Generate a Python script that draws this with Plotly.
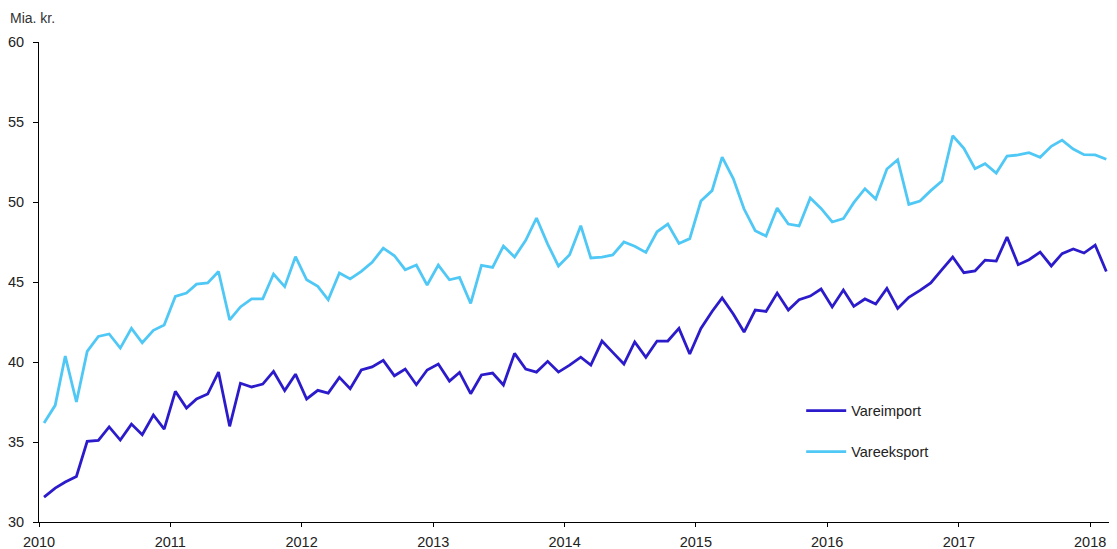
import pandas as pd
import plotly.graph_objects as go

# Monthly dates (mid-month), Jan 2010 - Feb 2018
dates = pd.date_range("2010-01-01", "2018-02-01", freq="MS") + pd.Timedelta(days=14)

vareimport = [
    31.56, 32.12, 32.50, 32.85, 35.04, 35.10, 35.94, 35.12, 36.12, 35.46, 36.69, 35.81,
    38.17, 37.12, 37.69, 38.00, 39.37, 35.98, 38.67, 38.44, 38.62, 39.41, 38.21, 39.24,
    37.69, 38.23, 38.06, 39.04, 38.33, 39.50, 39.69, 40.10, 39.14, 39.56, 38.58, 39.50,
    39.87, 38.81, 39.35, 38.02, 39.19, 39.31, 38.56, 40.54, 39.56, 39.37, 40.04, 39.37,
    39.80, 40.30, 39.81, 41.31, 40.60, 39.87, 41.25, 40.29, 41.31, 41.31, 42.10, 40.50,
    42.10, 43.16, 44.00, 43.00, 41.87, 43.25, 43.16, 44.31, 43.25, 43.89, 44.12, 44.56,
    43.44, 44.50, 43.48, 43.94, 43.62, 44.60, 43.35, 44.04, 44.48, 44.94, 45.77, 46.56,
    45.58, 45.69, 46.37, 46.31, 47.81, 46.08, 46.39, 46.87, 46.00, 46.77, 47.06, 46.81,
    47.31, 45.66,
]

vareeksport = [
    36.19, 37.29, 40.37, 37.50, 40.66, 41.60, 41.75, 40.87, 42.10, 41.20, 41.98, 42.31,
    44.10, 44.31, 44.87, 44.94, 45.66, 42.63, 43.44, 43.95, 43.95, 45.50, 44.71, 46.58,
    45.14, 44.73, 43.89, 45.56, 45.19, 45.66, 46.23, 47.12, 46.64, 45.77, 46.06, 44.81,
    46.06, 45.14, 45.29, 43.66, 46.04, 45.91, 47.25, 46.56, 47.60, 49.00, 47.37, 46.00,
    46.70, 48.52, 46.50, 46.56, 46.69, 47.50, 47.23, 46.85, 48.14, 48.62, 47.41, 47.71,
    50.06, 50.71, 52.81, 51.46, 49.56, 48.21, 47.87, 49.62, 48.62, 48.50, 50.25, 49.60,
    48.75, 48.96, 49.96, 50.83, 50.19, 52.06, 52.64, 49.85, 50.06, 50.71, 51.31, 54.14,
    53.35, 52.08, 52.39, 51.81, 52.87, 52.94, 53.08, 52.79, 53.48, 53.87, 53.31, 52.96,
    52.94, 52.67,
]

year_ticks = [f"{y}-01-01" for y in range(2010, 2019)]
year_labels = [str(y) for y in range(2010, 2019)]
y_ticks = [30, 35, 40, 45, 50, 55, 60]

import_color = "#2B1BCB"
export_color = "#50C8F6"
font_family = "Liberation Sans, Arial, sans-serif"
text_color = "#222222"

fig = go.Figure()
fig.add_trace(go.Scatter(x=dates, y=vareimport, mode="lines", name="Vareimport",
                         line=dict(color=import_color, width=2.8), legendgroup="a"))
fig.add_trace(go.Scatter(x=dates, y=vareeksport, mode="lines", name="Vareeksport",
                         line=dict(color=export_color, width=2.8), legendgroup="b"))

# The page body adds an 8px margin, so the figure is sized to fit the window
fig.update_layout(
    width=1109, height=541,
    margin=dict(l=31, r=6, t=34, b=27, autoexpand=False),
    paper_bgcolor="white", plot_bgcolor="white",
    font=dict(family=font_family, size=14, color=text_color),
    showlegend=True,
    legend=dict(x=0.711, y=0.265, xanchor="left", yanchor="top",
                bgcolor="rgba(0,0,0,0)", font=dict(size=14.5, color=text_color),
                tracegroupgap=19, itemwidth=40),
    xaxis=dict(
        type="date", range=["2010-01-01", "2018-02-28"],
        tickvals=year_ticks, ticktext=year_labels,
        showgrid=False, zeroline=False, automargin=False,
        showline=True, linecolor="black", linewidth=1,
        ticks="outside", ticklen=4, tickcolor="black",
        ticklabelstandoff=3,
        tickfont=dict(size=14.5, color=text_color),
    ),
    yaxis=dict(
        range=[30, 60], tickvals=y_ticks,
        showgrid=False, zeroline=False, automargin=False,
        showline=True, linecolor="black", linewidth=1,
        ticks="outside", ticklen=5, tickcolor="black",
        ticklabelstandoff=6,
        tickfont=dict(size=14.5, color=text_color),
    ),
    annotations=[dict(text="Mia. kr.", xref="paper", yref="paper", x=0, y=1,
                      xanchor="left", yanchor="middle", xshift=-31, yshift=24,
                      showarrow=False, font=dict(size=14, color="#333333"))],
)

fig.write_html("out.html")
